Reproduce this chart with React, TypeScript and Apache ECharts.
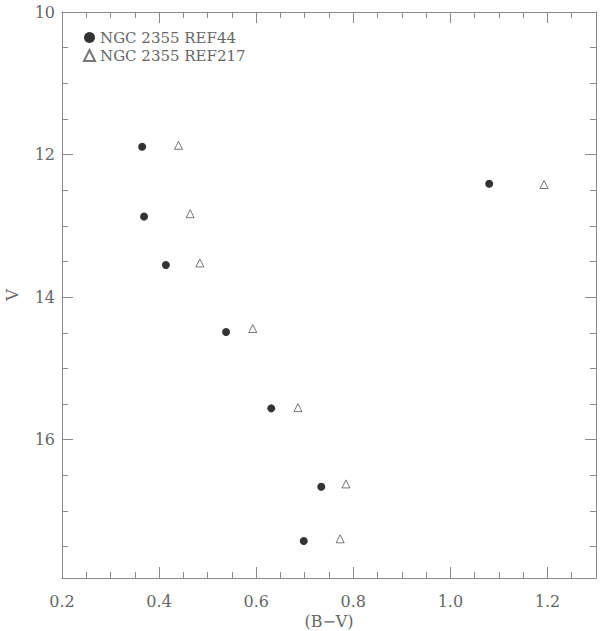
import React, { useEffect, useRef } from "react";
import * as echarts from "echarts";

const bvRef44 = [0.365, 0.369, 0.414, 0.538, 0.631, 0.734, 0.698, 1.08];
const vRef44 = [11.89, 12.87, 13.55, 14.49, 15.56, 16.66, 17.42, 12.41];
const bvRef217 = [0.44, 0.464, 0.484, 0.593, 0.686, 0.785, 0.773, 1.193];
const vRef217 = [11.87, 12.83, 13.52, 14.44, 15.55, 16.62, 17.39, 12.42];
const seriesNames = ["NGC 2355 REF44", "NGC 2355 REF217"];

const FONT = "DejaVu Serif";
const AXIS = "#8a8a8a";
const TEXT = "#666";

export default function App() {
  const ref = useRef<HTMLDivElement>(null);
  useEffect(() => {
    if (!ref.current) return;
    const chart = echarts.init(ref.current, undefined, { renderer: "svg" });
    const xBase = { type: "value", min: 0.2, max: 1.3, splitLine: { show: false } };
    const yBase = { type: "value", min: 10, max: 17.94, inverse: true, splitLine: { show: false } };
    const line = { show: true, lineStyle: { color: AXIS, width: 1 } };
    const noLabel = { show: false };
    chart.setOption({
      animation: false,
      backgroundColor: "#fff",
      grid: { left: 62, right: 4, top: 12, bottom: 53, containLabel: false, outerBoundsMode: "none" },
      legend: {
        data: seriesNames,
        orient: "vertical",
        left: 78,
        top: 25,
        itemWidth: 11,
        itemHeight: 11,
        itemGap: 3,
        textStyle: { fontFamily: FONT, fontSize: 15, lineHeight: 15, color: TEXT },
      },
      xAxis: [
        {
          ...xBase,
          position: "bottom",
          interval: 0.2,
          axisLine: line,
          axisTick: { show: true, inside: true, length: 11, lineStyle: { color: AXIS } },
          axisLabel: {
            show: true,
            showMaxLabel: false,
            margin: 15,
            fontFamily: FONT,
            fontSize: 16,
            color: TEXT,
            formatter: (v: number) => v.toFixed(1),
          },
          name: "(B−V)",
          nameLocation: "middle",
          nameGap: 34,
          nameTextStyle: { fontFamily: FONT, fontSize: 16, color: TEXT },
        },
        {
          ...xBase,
          position: "bottom",
          interval: 0.05,
          axisLine: { show: false },
          axisTick: { show: true, inside: true, length: 6, lineStyle: { color: AXIS } },
          axisLabel: noLabel,
        },
        {
          ...xBase,
          position: "top",
          interval: 0.2,
          axisLine: line,
          axisTick: { show: true, inside: true, length: 11, lineStyle: { color: AXIS } },
          axisLabel: noLabel,
        },
        {
          ...xBase,
          position: "top",
          interval: 0.05,
          axisLine: { show: false },
          axisTick: { show: true, inside: true, length: 6, lineStyle: { color: AXIS } },
          axisLabel: noLabel,
        },
      ],
      yAxis: [
        {
          ...yBase,
          position: "left",
          interval: 2,
          axisLine: line,
          axisTick: { show: true, inside: true, length: 11, lineStyle: { color: AXIS } },
          axisLabel: {
            show: true,
            showMaxLabel: false,
            margin: 7,
            fontFamily: FONT,
            fontSize: 16,
            color: TEXT,
          },
          name: "V",
          nameLocation: "middle",
          nameGap: 42,
          nameRotate: 90,
          nameTextStyle: { fontFamily: FONT, fontSize: 16, color: TEXT },
        },
        {
          ...yBase,
          position: "left",
          interval: 0.5,
          axisLine: { show: false },
          axisTick: { show: true, inside: true, length: 6, lineStyle: { color: AXIS } },
          axisLabel: noLabel,
        },
        {
          ...yBase,
          position: "right",
          interval: 2,
          axisLine: line,
          axisTick: { show: true, inside: true, length: 11, lineStyle: { color: AXIS } },
          axisLabel: noLabel,
        },
        {
          ...yBase,
          position: "right",
          interval: 0.5,
          axisLine: { show: false },
          axisTick: { show: true, inside: true, length: 6, lineStyle: { color: AXIS } },
          axisLabel: noLabel,
        },
      ],
      series: [
        {
          name: seriesNames[0],
          type: "scatter",
          xAxisIndex: 0,
          yAxisIndex: 0,
          symbol: "circle",
          symbolSize: 8,
          itemStyle: { color: "#000" },
          data: bvRef44.map((x, i) => [x, vRef44[i]]),
        },
        {
          name: seriesNames[1],
          type: "scatter",
          xAxisIndex: 0,
          yAxisIndex: 0,
          symbol: "triangle",
          symbolSize: 8,
          itemStyle: { color: "rgba(0,0,0,0)", borderColor: "#555", borderWidth: 1 },
          data: bvRef217.map((x, i) => [x, vRef217[i]]),
        },
      ],
    });
    return () => chart.dispose();
  }, []);
  return (
    <div
      ref={ref}
      style={{ position: "absolute", left: 0, top: 0, width: 600, height: 631, background: "#fff" }}
    />
  );
}
